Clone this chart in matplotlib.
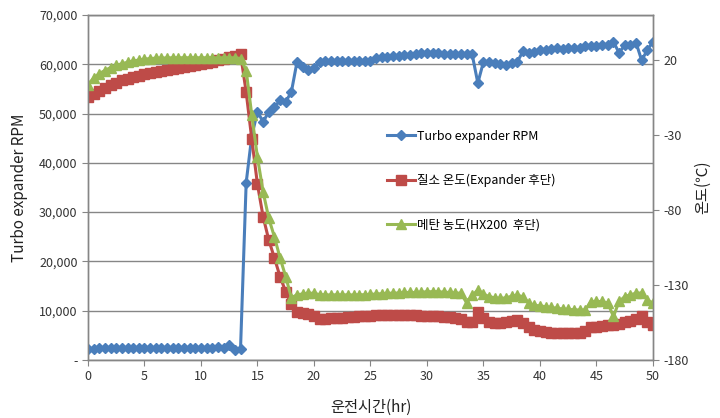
import numpy as np
import matplotlib
matplotlib.use("Agg")
import matplotlib.pyplot as plt
from matplotlib.ticker import FuncFormatter

plt.rcParams['font.family'] = ['Noto Sans CJK KR', 'DejaVu Sans']
plt.rcParams['axes.unicode_minus'] = False

# 운전시간 (hr), 0.5 hr 간격
hours = np.arange(0, 50.5, 0.5)

# Turbo expander RPM
rpm = [2300, 2300, 2350, 2400, 2450, 2500, 2500, 2450, 2450, 2500,
       2400, 2450, 2400, 2400, 2400, 2450, 2400, 2450, 2400, 2450,
       2500, 2450, 2500, 2550, 2500, 3000, 2000, 2300,
       36000, 45500, 50400, 48300, 50400, 51300, 52700, 52400, 54400, 60500,
       59500, 58800, 59200, 60500, 60700, 60600, 60700, 60600, 60700, 60600,
       60700, 60700, 60600, 61300, 61400, 61500, 61600, 61700, 61800, 61900,
       62100, 62200, 62300, 62300, 62200, 62100, 62000, 62000, 62000, 62100,
       62000, 56200, 60500, 60400, 60200, 60000, 59900, 60200, 60500, 62700,
       62200, 62400, 62900, 63000, 63100, 63300, 63200, 63300, 63400, 63300,
       63700, 63800, 63800, 63900, 64000, 64600, 62300, 63900, 64000, 64400,
       60800, 62900, 64600]

# 질소 온도 (Expander 후단), ℃
n2_temp = [-4.5, -2.5, -0.5, 1.5, 3.5, 5.0, 6.5, 7.5, 8.5, 9.5,
           10.5, 11.3, 12.0, 12.8, 13.5, 14.2, 15.0, 15.6, 16.3, 17.0,
           17.6, 18.3, 19.0, 19.8, 20.5, 22.0, 23.0, 24.0,
           -1.5, -33, -63, -84.5, -100, -112, -124.5, -134.5, -143, -148,
           -149, -149.5, -151, -152.5, -152.5, -152.3, -152, -151.8, -151.5, -151.3,
           -151, -150.8, -150.5, -150.3, -150.2, -150, -150, -150, -150, -150.2,
           -150.3, -150.5, -150.5, -150.7, -151, -151.2, -151.5, -152, -153, -154.5,
           -154.5, -147.8, -152, -154.5, -155.5, -155.5, -155, -154, -153.3, -155.5,
           -158, -160, -161, -161.5, -162, -162, -162.3, -162.3, -162.3, -162,
           -161, -158, -157.8, -157.5, -157, -156.7, -156, -155, -154, -153,
           -151, -155, -156.5]

# 메탄 농도 (HX200 후단)
ch4 = [3.5, 8, 11, 13, 15, 16.5, 17.5, 18.5, 19.3, 20,
       20.5, 21, 21.2, 21.3, 21.4, 21.5, 21.5, 21.5, 21.5, 21.5,
       21.5, 21.5, 21.5, 21.5, 21.5, 21.5, 21.5, 21,
       13, -17, -45, -68, -85.5, -98, -112, -124.5, -138.5, -136.5,
       -136, -135.5, -135.5, -136.5, -136.5, -136.7, -136.5, -136.7, -136.5, -136.7,
       -136.5, -136.5, -136.3, -136, -135.8, -135.5, -135.5, -135.3, -135, -135,
       -135, -134.8, -134.5, -134.5, -134.5, -134.8, -135, -135.3, -135.5, -141.8,
       -137, -133.3, -136, -137.8, -138.5, -139, -138.5, -137.5, -136.7, -138,
       -142, -143.5, -144, -144.4, -145, -145.5, -146, -146.3, -146.5, -146.7,
       -146.7, -141.1, -141, -141, -142, -151, -141, -137.8, -136.5, -135.5,
       -135.3, -140, -142]

rpm_ticks = np.arange(0, 70001, 10000)
temp_ticks = np.arange(-180, 21, 50)

fig = plt.figure(figsize=(7.2, 4.18), dpi=100)
ax = fig.add_axes([0.1222, 0.1388, 0.7847, 0.8253])
ax2 = ax.twinx()

blue = '#4a7ebb'
red = '#be4b48'
green = '#98b954'
grid = '#868686'

l1, = ax.plot(hours, rpm, color=blue, lw=2.2, marker='D', ms=4.8, mec=blue,
              label='Turbo expander RPM', zorder=3)
l2, = ax2.plot(hours, n2_temp, color=red, lw=2.2, marker='s', ms=6.5, mec=red,
               label='질소 온도(Expander 후단)')
l3, = ax2.plot(hours, ch4, color=green, lw=2.2, marker='^', ms=7, mec=green,
               label='메탄 농도(HX200  후단)')

ax.set_xlim(0, 50)
ax.set_ylim(0, 70000)
ax2.set_ylim(-180, 50)
ax.set_xticks(np.arange(0, 51, 5))
ax.set_yticks(rpm_ticks)
ax2.set_yticks(temp_ticks)
ax.yaxis.set_major_formatter(FuncFormatter(lambda v, p: '-' if v == 0 else f'{int(v):,}'))

ax.grid(axis='y', color=grid, lw=1.0)
ax.set_axisbelow(True)
for a in (ax, ax2):
    for s in a.spines.values():
        s.set_color(grid)
        s.set_linewidth(1.0)
    a.tick_params(colors=grid, labelcolor='#333333', labelsize=9, length=4)

ax.set_ylabel('Turbo expander RPM', fontsize=11, color='#222222', labelpad=8)
ax2.set_ylabel('온도(℃)', fontsize=11, color='#222222', labelpad=4)
ax.set_xlabel('운전시간(hr)', fontsize=11, color='#222222', labelpad=11)

ax2.legend([l1, l2, l3], [l1.get_label(), l2.get_label(), l3.get_label()],
           loc='upper left', bbox_to_anchor=(0.51, 0.70), frameon=False,
           fontsize=9, labelspacing=2.5, handlelength=2.2, handletextpad=0.2)

fig.savefig('out.png', dpi=100)
